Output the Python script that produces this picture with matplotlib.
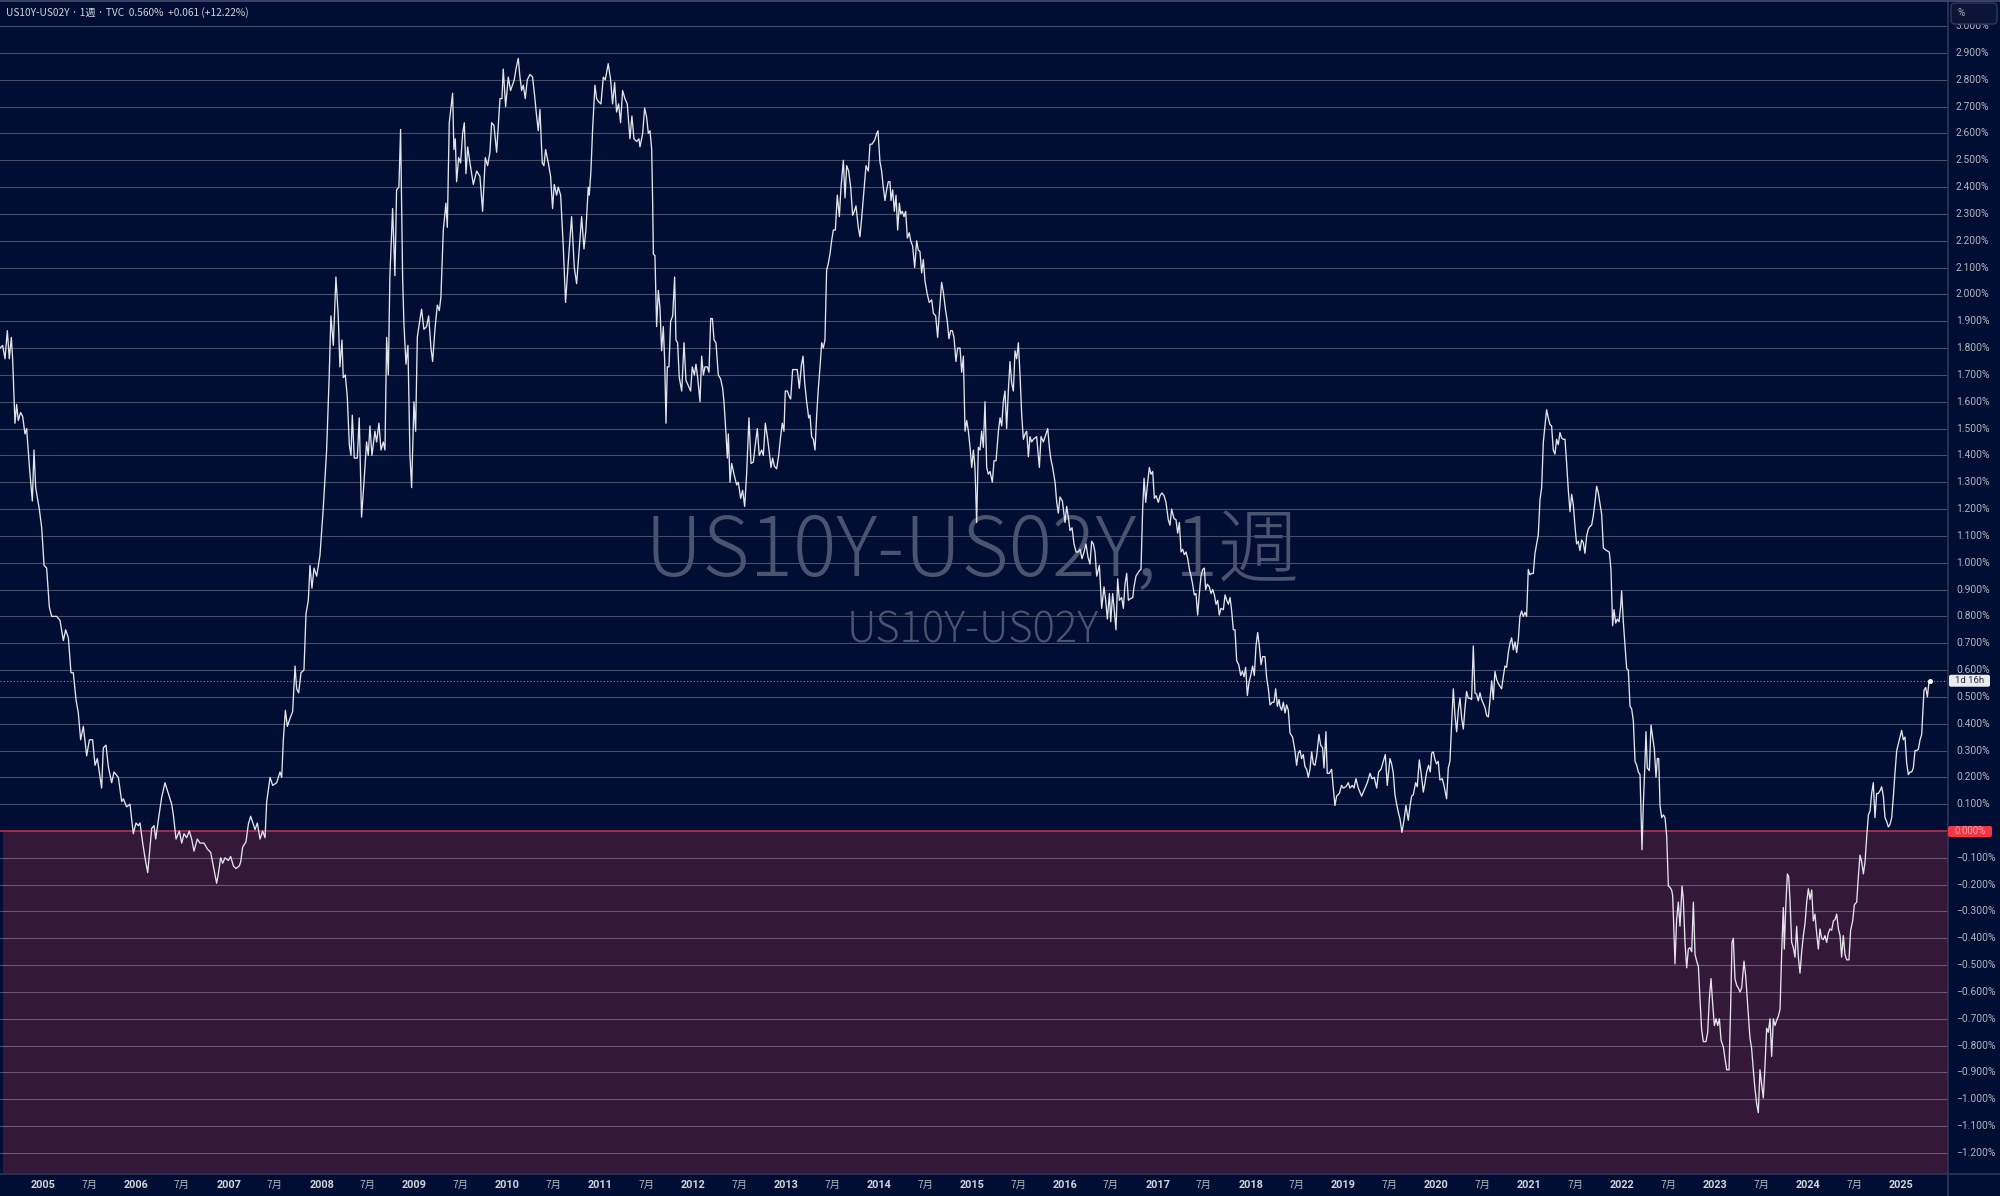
import matplotlib
matplotlib.use("Agg")
import matplotlib.pyplot as plt
from matplotlib.patches import FancyBboxPatch
from matplotlib.lines import Line2D
from matplotlib.transforms import blended_transform_factory, IdentityTransform
import numpy as np

# ---------------- data: (decimal year, US10Y-US02Y spread in %) ----------------
seg_2004_2007 = [
    (2004.548, 1.80), (2004.577, 1.81), (2004.602, 1.76), (2004.627, 1.865), (2004.648, 1.76),
    (2004.670, 1.84), (2004.684, 1.76), (2004.709, 1.52), (2004.727, 1.59), (2004.745, 1.53),
    (2004.770, 1.56), (2004.792, 1.545), (2004.817, 1.48), (2004.835, 1.50), (2004.864, 1.36),
    (2004.896, 1.23), (2004.914, 1.42), (2004.932, 1.28), (2004.971, 1.20), (2004.997, 1.13),
    (2005.022, 0.99), (2005.050, 0.98), (2005.079, 0.835), (2005.104, 0.80), (2005.158, 0.80),
    (2005.194, 0.785), (2005.230, 0.71), (2005.255, 0.75), (2005.284, 0.72), (2005.312, 0.59),
    (2005.337, 0.59), (2005.366, 0.49), (2005.391, 0.44), (2005.416, 0.34), (2005.445, 0.39),
    (2005.481, 0.28), (2005.510, 0.34), (2005.545, 0.34), (2005.571, 0.245), (2005.596, 0.27),
    (2005.642, 0.16), (2005.660, 0.31), (2005.689, 0.32), (2005.714, 0.24), (2005.750, 0.18),
    (2005.775, 0.22), (2005.822, 0.20), (2005.858, 0.11), (2005.876, 0.12), (2005.911, 0.09),
    (2005.947, 0.10), (2005.983, -0.01), (2006.012, 0.03), (2006.037, 0.02), (2006.055, 0.03),
    (2006.084, -0.045), (2006.109, -0.10), (2006.138, -0.155), (2006.163, -0.06), (2006.181, 0.01),
    (2006.206, 0.02), (2006.224, -0.03), (2006.252, 0.04), (2006.288, 0.125), (2006.324, 0.18),
    (2006.360, 0.14), (2006.396, 0.10), (2006.414, 0.06), (2006.443, -0.03), (2006.479, 0.0),
    (2006.504, -0.045), (2006.529, -0.01), (2006.557, -0.025), (2006.586, 0.0), (2006.611, -0.03),
    (2006.636, -0.075), (2006.672, -0.03), (2006.701, -0.045), (2006.744, -0.045), (2006.780, -0.067),
    (2006.816, -0.08), (2006.844, -0.13), (2006.880, -0.195), (2006.898, -0.16), (2006.923, -0.10),
    (2006.945, -0.12), (2006.970, -0.10), (2007.006, -0.11), (2007.031, -0.095), (2007.060, -0.13),
    (2007.088, -0.14), (2007.124, -0.13), (2007.139, -0.115), (2007.160, -0.06), (2007.196, -0.04),
    (2007.221, 0.025), (2007.246, 0.055), (2007.275, 0.025), (2007.293, 0.005), (2007.318, 0.03),
    (2007.347, -0.03), (2007.375, 0.0), (2007.401, -0.025), (2007.419, 0.11), (2007.455, 0.20),
    (2007.483, 0.17), (2007.526, 0.18), (2007.562, 0.22), (2007.580, 0.20), (2007.598, 0.34),
    (2007.620, 0.45), (2007.641, 0.39), (2007.670, 0.42), (2007.698, 0.445), (2007.724, 0.615),
    (2007.741, 0.53), (2007.763, 0.515), (2007.788, 0.59), (2007.820, 0.60), (2007.842, 0.81),
    (2007.867, 0.86), (2007.885, 0.99), (2007.906, 0.905), (2007.928, 0.98), (2007.957, 0.95),
]

seg_2008_2011 = [
    (2007.992, 1.027), (2008.028, 1.205), (2008.064, 1.42), (2008.092, 1.70), (2008.110, 1.92),
    (2008.136, 1.81), (2008.164, 2.065), (2008.189, 1.92), (2008.207, 1.73), (2008.229, 1.83),
    (2008.243, 1.69), (2008.265, 1.70), (2008.286, 1.62), (2008.308, 1.44), (2008.326, 1.40),
    (2008.340, 1.55), (2008.362, 1.39), (2008.394, 1.39), (2008.415, 1.54), (2008.440, 1.17),
    (2008.466, 1.30), (2008.494, 1.45), (2008.512, 1.40), (2008.530, 1.51), (2008.552, 1.40),
    (2008.584, 1.49), (2008.602, 1.45), (2008.627, 1.52), (2008.649, 1.42), (2008.674, 1.45),
    (2008.692, 1.42), (2008.710, 1.84), (2008.728, 1.70), (2008.745, 2.07), (2008.774, 2.32),
    (2008.799, 2.07), (2008.817, 2.39), (2008.842, 2.40), (2008.860, 2.615), (2008.882, 2.06),
    (2008.896, 1.89), (2008.918, 1.74), (2008.939, 1.81), (2008.961, 1.40), (2008.979, 1.28),
    (2009.004, 1.60), (2009.022, 1.49), (2009.040, 1.84), (2009.061, 1.89), (2009.086, 1.945),
    (2009.111, 1.87), (2009.140, 1.88), (2009.162, 1.92), (2009.187, 1.80), (2009.205, 1.75),
    (2009.230, 1.87), (2009.255, 1.96), (2009.277, 1.94), (2009.294, 1.99), (2009.320, 2.24),
    (2009.348, 2.34), (2009.363, 2.25), (2009.384, 2.64), (2009.420, 2.75), (2009.434, 2.54),
    (2009.449, 2.58), (2009.463, 2.42), (2009.485, 2.51), (2009.506, 2.49), (2009.528, 2.60),
    (2009.546, 2.64), (2009.564, 2.45), (2009.582, 2.55), (2009.607, 2.49), (2009.643, 2.41),
    (2009.679, 2.46), (2009.714, 2.44), (2009.743, 2.31), (2009.772, 2.51), (2009.797, 2.48),
    (2009.822, 2.53), (2009.840, 2.64), (2009.865, 2.63), (2009.894, 2.53), (2009.930, 2.73),
    (2009.951, 2.73), (2009.965, 2.84), (2009.991, 2.70), (2010.019, 2.81), (2010.044, 2.76),
    (2010.084, 2.80), (2010.102, 2.84), (2010.127, 2.88), (2010.145, 2.81), (2010.163, 2.76),
    (2010.181, 2.78), (2010.202, 2.73), (2010.224, 2.80), (2010.253, 2.82), (2010.281, 2.81),
    (2010.306, 2.73), (2010.324, 2.665), (2010.342, 2.61), (2010.360, 2.69), (2010.385, 2.49),
    (2010.403, 2.48), (2010.421, 2.54), (2010.450, 2.49), (2010.475, 2.44), (2010.496, 2.32),
    (2010.514, 2.41), (2010.540, 2.37), (2010.557, 2.40), (2010.583, 2.37), (2010.611, 2.18),
    (2010.636, 1.97), (2010.665, 2.12), (2010.701, 2.29), (2010.730, 2.10), (2010.755, 2.04),
    (2010.783, 2.17), (2010.809, 2.29), (2010.834, 2.17), (2010.855, 2.24), (2010.880, 2.40),
    (2010.891, 2.37), (2010.909, 2.46), (2010.927, 2.615), (2010.952, 2.78), (2010.970, 2.73),
    (2010.988, 2.72), (2011.017, 2.71), (2011.042, 2.81), (2011.063, 2.80), (2011.095, 2.86),
    (2011.121, 2.80), (2011.142, 2.71), (2011.164, 2.79), (2011.185, 2.68), (2011.207, 2.71),
    (2011.228, 2.64), (2011.250, 2.76), (2011.275, 2.73), (2011.300, 2.71), (2011.329, 2.58),
    (2011.350, 2.665), (2011.372, 2.58), (2011.401, 2.57), (2011.426, 2.58),
]

seg_2011_2014 = [
    (2011.437, 2.55), (2011.466, 2.60), (2011.487, 2.695), (2011.509, 2.66), (2011.527, 2.60),
    (2011.545, 2.61), (2011.563, 2.54), (2011.573, 2.35), (2011.581, 2.15), (2011.598, 2.145),
    (2011.616, 1.88), (2011.634, 2.015), (2011.652, 1.95), (2011.670, 1.79), (2011.688, 1.88),
    (2011.703, 1.75), (2011.717, 1.52), (2011.731, 1.73), (2011.749, 1.73), (2011.767, 1.90),
    (2011.789, 1.92), (2011.810, 2.065), (2011.824, 1.83), (2011.842, 1.82), (2011.860, 1.69),
    (2011.886, 1.64), (2011.911, 1.82), (2011.932, 1.68), (2011.957, 1.66), (2011.982, 1.64),
    (2012.000, 1.73), (2012.022, 1.70), (2012.040, 1.74), (2012.058, 1.69), (2012.083, 1.60),
    (2012.101, 1.77), (2012.119, 1.70), (2012.137, 1.73), (2012.162, 1.73), (2012.180, 1.71),
    (2012.198, 1.91), (2012.216, 1.91), (2012.234, 1.83), (2012.255, 1.82), (2012.280, 1.70),
    (2012.305, 1.685), (2012.327, 1.65), (2012.341, 1.60), (2012.363, 1.48), (2012.377, 1.39),
    (2012.388, 1.48), (2012.406, 1.30), (2012.424, 1.37), (2012.449, 1.33), (2012.478, 1.29),
    (2012.495, 1.30), (2012.521, 1.24), (2012.542, 1.27), (2012.564, 1.21), (2012.585, 1.33),
    (2012.610, 1.54), (2012.632, 1.37), (2012.657, 1.375), (2012.675, 1.43), (2012.700, 1.50),
    (2012.721, 1.40), (2012.747, 1.42), (2012.765, 1.40), (2012.786, 1.52), (2012.808, 1.47),
    (2012.826, 1.42), (2012.847, 1.355), (2012.865, 1.39), (2012.883, 1.36), (2012.908, 1.35),
    (2012.930, 1.40), (2012.951, 1.47), (2012.969, 1.52), (2012.987, 1.49), (2013.001, 1.64),
    (2013.023, 1.64), (2013.044, 1.62), (2013.059, 1.61), (2013.080, 1.72), (2013.105, 1.72),
    (2013.130, 1.72), (2013.152, 1.65), (2013.174, 1.735), (2013.192, 1.77), (2013.210, 1.67),
    (2013.231, 1.60), (2013.253, 1.54), (2013.267, 1.55), (2013.285, 1.47), (2013.303, 1.46),
    (2013.321, 1.42), (2013.339, 1.55), (2013.357, 1.65), (2013.375, 1.73), (2013.393, 1.82),
    (2013.410, 1.80), (2013.428, 1.83), (2013.446, 2.09), (2013.464, 2.115), (2013.482, 2.15),
    (2013.500, 2.20), (2013.518, 2.24), (2013.540, 2.24), (2013.561, 2.37), (2013.583, 2.29),
    (2013.601, 2.40), (2013.626, 2.50), (2013.644, 2.36), (2013.662, 2.48), (2013.683, 2.46),
    (2013.705, 2.40), (2013.726, 2.295), (2013.744, 2.31), (2013.762, 2.33), (2013.787, 2.25),
    (2013.805, 2.215), (2013.827, 2.30), (2013.848, 2.39), (2013.870, 2.48), (2013.895, 2.46),
    (2013.913, 2.56), (2013.934, 2.56), (2013.963, 2.575), (2013.985, 2.60), (2013.999, 2.61),
    (2014.020, 2.495), (2014.038, 2.46), (2014.056, 2.40), (2014.074, 2.35), (2014.092, 2.39),
    (2014.110, 2.42), (2014.128, 2.42), (2014.139, 2.35), (2014.157, 2.39), (2014.175, 2.31),
    (2014.193, 2.37), (2014.211, 2.24), (2014.229, 2.34), (2014.243, 2.30), (2014.261, 2.31),
    (2014.279, 2.29), (2014.297, 2.31), (2014.315, 2.21), (2014.336, 2.23), (2014.351, 2.20),
    (2014.372, 2.18), (2014.394, 2.10), (2014.415, 2.20), (2014.433, 2.165), (2014.451, 2.16),
    (2014.469, 2.08), (2014.487, 2.13), (2014.505, 2.05), (2014.530, 2.00), (2014.551, 1.97),
    (2014.577, 1.98), (2014.595, 1.93), (2014.620, 1.92), (2014.641, 1.84), (2014.659, 1.93),
    (2014.684, 2.045), (2014.702, 2.01), (2014.727, 1.94), (2014.745, 1.90), (2014.763, 1.835),
    (2014.781, 1.865), (2014.799, 1.865), (2014.817, 1.84), (2014.838, 1.75), (2014.856, 1.80),
    (2014.874, 1.80),
]

seg_2015_2018 = [
    (2014.882, 1.80), (2014.900, 1.71), (2014.918, 1.77), (2014.936, 1.49), (2014.954, 1.53),
    (2014.972, 1.49), (2014.990, 1.43), (2015.008, 1.355), (2015.026, 1.42), (2015.043, 1.355),
    (2015.061, 1.15), (2015.079, 1.43), (2015.097, 1.42), (2015.115, 1.49), (2015.133, 1.43),
    (2015.151, 1.60), (2015.169, 1.355), (2015.187, 1.33), (2015.205, 1.34), (2015.230, 1.30),
    (2015.248, 1.38), (2015.270, 1.38), (2015.295, 1.49), (2015.313, 1.54), (2015.331, 1.51),
    (2015.348, 1.60), (2015.366, 1.64), (2015.384, 1.50), (2015.402, 1.64), (2015.420, 1.75),
    (2015.438, 1.67), (2015.456, 1.64), (2015.474, 1.79), (2015.492, 1.76), (2015.510, 1.82),
    (2015.528, 1.70), (2015.546, 1.55), (2015.564, 1.46), (2015.582, 1.48), (2015.600, 1.49),
    (2015.618, 1.395), (2015.635, 1.47), (2015.653, 1.45), (2015.671, 1.46), (2015.707, 1.47),
    (2015.736, 1.355), (2015.754, 1.47), (2015.779, 1.45), (2015.808, 1.48), (2015.826, 1.50),
    (2015.844, 1.43), (2015.858, 1.39), (2015.879, 1.355), (2015.905, 1.30), (2015.923, 1.225),
    (2015.940, 1.185), (2015.958, 1.245), (2015.984, 1.23), (2016.012, 1.15), (2016.030, 1.21),
    (2016.048, 1.17), (2016.066, 1.12), (2016.088, 1.13), (2016.109, 1.07), (2016.131, 1.04),
    (2016.156, 1.04), (2016.174, 1.05), (2016.195, 1.015), (2016.217, 1.04), (2016.238, 1.07),
    (2016.260, 1.02), (2016.281, 0.995), (2016.299, 1.08), (2016.317, 1.07), (2016.335, 1.04),
    (2016.353, 0.95), (2016.382, 0.99), (2016.407, 0.83), (2016.432, 0.91), (2016.450, 0.86),
    (2016.468, 0.79), (2016.490, 0.885), (2016.504, 0.78), (2016.525, 0.885), (2016.543, 0.82),
    (2016.561, 0.75), (2016.579, 0.94), (2016.597, 0.86), (2016.622, 0.87), (2016.640, 0.83),
    (2016.658, 0.92), (2016.676, 0.96), (2016.694, 0.86), (2016.712, 0.865), (2016.741, 0.87),
    (2016.755, 0.91), (2016.776, 0.95), (2016.794, 0.96), (2016.812, 0.97), (2016.830, 0.975),
    (2016.848, 1.20), (2016.863, 1.315), (2016.881, 1.225), (2016.899, 1.29), (2016.920, 1.355),
    (2016.938, 1.33), (2016.956, 1.34), (2016.974, 1.24), (2016.992, 1.25), (2017.017, 1.225),
    (2017.035, 1.25), (2017.056, 1.26), (2017.078, 1.25), (2017.099, 1.225), (2017.124, 1.16),
    (2017.142, 1.14), (2017.160, 1.20), (2017.185, 1.165), (2017.207, 1.16), (2017.225, 1.11),
    (2017.243, 1.15), (2017.261, 1.04), (2017.279, 1.05), (2017.297, 1.03), (2017.315, 1.04),
    (2017.333, 1.015), (2017.351, 0.975), (2017.369, 0.95), (2017.386, 0.92), (2017.404, 0.88),
    (2017.422, 0.885), (2017.440, 0.805), (2017.458, 0.885), (2017.476, 0.95), (2017.494, 0.975),
    (2017.512, 0.98), (2017.526, 0.90), (2017.544, 0.92), (2017.566, 0.91), (2017.584, 0.885),
    (2017.602, 0.90), (2017.620, 0.88), (2017.638, 0.845), (2017.656, 0.86), (2017.673, 0.805),
    (2017.691, 0.83), (2017.717, 0.825), (2017.735, 0.88), (2017.753, 0.86), (2017.771, 0.845),
    (2017.789, 0.87), (2017.806, 0.82), (2017.824, 0.75), (2017.842, 0.75), (2017.860, 0.635),
    (2017.882, 0.62), (2017.903, 0.58), (2017.921, 0.595), (2017.939, 0.575), (2017.957, 0.61),
    (2017.975, 0.505), (2017.993, 0.555), (2018.011, 0.58), (2018.032, 0.615), (2018.050, 0.58),
    (2018.068, 0.69), (2018.086, 0.74), (2018.104, 0.69), (2018.122, 0.62), (2018.140, 0.65),
    (2018.165, 0.65), (2018.183, 0.57), (2018.201, 0.53), (2018.219, 0.47), (2018.244, 0.48),
    (2018.262, 0.48), (2018.280, 0.53), (2018.298, 0.465), (2018.316, 0.49),
]

seg_2018_2021 = [
    (2018.326, 0.465), (2018.344, 0.45), (2018.362, 0.48), (2018.380, 0.44), (2018.398, 0.47),
    (2018.416, 0.45), (2018.434, 0.365), (2018.462, 0.35), (2018.487, 0.30), (2018.505, 0.245),
    (2018.523, 0.29), (2018.541, 0.30), (2018.559, 0.27), (2018.577, 0.285), (2018.595, 0.24),
    (2018.613, 0.23), (2018.631, 0.20), (2018.649, 0.23), (2018.667, 0.295), (2018.685, 0.25),
    (2018.703, 0.245), (2018.721, 0.28), (2018.746, 0.36), (2018.764, 0.32), (2018.785, 0.31),
    (2018.800, 0.235), (2018.821, 0.37), (2018.835, 0.215), (2018.857, 0.215), (2018.882, 0.23),
    (2018.900, 0.16), (2018.918, 0.095), (2018.936, 0.13), (2018.965, 0.14), (2018.990, 0.17),
    (2019.008, 0.16), (2019.036, 0.165), (2019.062, 0.18), (2019.079, 0.16), (2019.105, 0.17),
    (2019.123, 0.16), (2019.144, 0.195), (2019.169, 0.16), (2019.205, 0.13), (2019.241, 0.16),
    (2019.266, 0.18), (2019.295, 0.215), (2019.316, 0.195), (2019.341, 0.20), (2019.367, 0.16),
    (2019.388, 0.22), (2019.413, 0.23), (2019.438, 0.26), (2019.460, 0.285), (2019.481, 0.17),
    (2019.510, 0.27), (2019.528, 0.25), (2019.546, 0.215), (2019.564, 0.135), (2019.582, 0.10),
    (2019.600, 0.07), (2019.618, 0.045), (2019.639, -0.005), (2019.661, 0.04), (2019.682, 0.095),
    (2019.707, 0.04), (2019.725, 0.09), (2019.743, 0.13), (2019.761, 0.135), (2019.786, 0.18),
    (2019.804, 0.165), (2019.826, 0.265), (2019.844, 0.22), (2019.869, 0.145), (2019.887, 0.18),
    (2019.905, 0.22), (2019.926, 0.245), (2019.944, 0.22), (2019.959, 0.29), (2019.977, 0.295),
    (2019.995, 0.265), (2020.012, 0.25), (2020.030, 0.26), (2020.048, 0.19), (2020.073, 0.195),
    (2020.091, 0.17), (2020.120, 0.12), (2020.138, 0.235), (2020.156, 0.26), (2020.174, 0.40),
    (2020.192, 0.53), (2020.210, 0.43), (2020.228, 0.37), (2020.246, 0.45), (2020.264, 0.495),
    (2020.282, 0.42), (2020.300, 0.38), (2020.318, 0.46), (2020.335, 0.52), (2020.353, 0.495),
    (2020.371, 0.495), (2020.389, 0.49), (2020.407, 0.69), (2020.425, 0.515), (2020.443, 0.51),
    (2020.461, 0.485), (2020.479, 0.515), (2020.497, 0.49), (2020.515, 0.475), (2020.533, 0.46),
    (2020.551, 0.43), (2020.569, 0.425), (2020.587, 0.49), (2020.605, 0.56), (2020.622, 0.49),
    (2020.640, 0.595), (2020.658, 0.565), (2020.676, 0.55), (2020.694, 0.54), (2020.712, 0.53),
    (2020.730, 0.575), (2020.748, 0.615), (2020.766, 0.61), (2020.784, 0.665), (2020.802, 0.70),
    (2020.820, 0.72), (2020.838, 0.675), (2020.856, 0.705), (2020.874, 0.665), (2020.892, 0.715),
    (2020.909, 0.80), (2020.927, 0.82), (2020.945, 0.80), (2020.963, 0.815), (2020.981, 0.80),
    (2020.999, 0.975), (2021.017, 0.955), (2021.035, 0.96), (2021.053, 0.96), (2021.071, 1.035),
    (2021.089, 1.07), (2021.107, 1.105), (2021.125, 1.235), (2021.143, 1.28), (2021.161, 1.45),
    (2021.179, 1.51), (2021.196, 1.57), (2021.214, 1.54), (2021.232, 1.515), (2021.250, 1.51),
    (2021.268, 1.42), (2021.286, 1.405), (2021.304, 1.46), (2021.322, 1.44), (2021.340, 1.485),
    (2021.358, 1.465), (2021.376, 1.46), (2021.394, 1.46), (2021.412, 1.37), (2021.430, 1.27),
    (2021.448, 1.19), (2021.466, 1.255), (2021.484, 1.215), (2021.502, 1.135), (2021.519, 1.07),
    (2021.537, 1.08), (2021.555, 1.045), (2021.573, 1.085), (2021.591, 1.075), (2021.609, 1.035),
    (2021.627, 1.10), (2021.645, 1.125), (2021.663, 1.135), (2021.681, 1.14), (2021.699, 1.175),
    (2021.717, 1.225), (2021.735, 1.285), (2021.753, 1.26),
]

seg_2021_2025 = [
    (2021.771, 1.22), (2021.789, 1.18), (2021.807, 1.055), (2021.843, 1.045), (2021.871, 1.04),
    (2021.889, 0.975), (2021.907, 0.765), (2021.922, 0.825), (2021.940, 0.775), (2021.958, 0.79),
    (2021.976, 0.78), (2021.993, 0.835), (2022.004, 0.895), (2022.022, 0.78), (2022.040, 0.695),
    (2022.058, 0.605), (2022.076, 0.60), (2022.094, 0.465), (2022.112, 0.455), (2022.130, 0.41),
    (2022.148, 0.26), (2022.166, 0.245), (2022.184, 0.22), (2022.202, 0.21), (2022.223, -0.07),
    (2022.237, 0.095), (2022.255, 0.255), (2022.266, 0.37), (2022.280, 0.235), (2022.302, 0.225),
    (2022.320, 0.395), (2022.338, 0.35), (2022.356, 0.305), (2022.374, 0.20), (2022.388, 0.27),
    (2022.403, 0.27), (2022.417, 0.095), (2022.435, 0.05), (2022.453, 0.06), (2022.471, 0.05),
    (2022.489, -0.02), (2022.507, -0.205), (2022.524, -0.21), (2022.542, -0.22), (2022.553, -0.24),
    (2022.564, -0.345), (2022.578, -0.495), (2022.596, -0.33), (2022.614, -0.265), (2022.632, -0.355),
    (2022.654, -0.205), (2022.668, -0.255), (2022.686, -0.415), (2022.704, -0.51), (2022.722, -0.44),
    (2022.740, -0.435), (2022.758, -0.45), (2022.776, -0.265), (2022.794, -0.46), (2022.812, -0.485),
    (2022.830, -0.505), (2022.847, -0.625), (2022.865, -0.74), (2022.883, -0.785), (2022.912, -0.785),
    (2022.930, -0.75), (2022.948, -0.625), (2022.966, -0.55), (2022.984, -0.645), (2023.002, -0.725),
    (2023.020, -0.70), (2023.038, -0.725), (2023.056, -0.70), (2023.074, -0.78), (2023.099, -0.805),
    (2023.117, -0.85), (2023.135, -0.89), (2023.160, -0.89), (2023.178, -0.645), (2023.192, -0.415),
    (2023.206, -0.40), (2023.224, -0.55), (2023.242, -0.575), (2023.260, -0.585), (2023.278, -0.60),
    (2023.296, -0.585), (2023.321, -0.485), (2023.339, -0.54), (2023.360, -0.645), (2023.385, -0.77),
    (2023.403, -0.81), (2023.421, -0.89), (2023.439, -0.96), (2023.457, -1.015), (2023.475, -1.05),
    (2023.493, -0.89), (2023.511, -0.945), (2023.529, -0.995), (2023.547, -0.875), (2023.565, -0.735),
    (2023.583, -0.75), (2023.601, -0.70), (2023.619, -0.84), (2023.637, -0.70), (2023.655, -0.725),
    (2023.673, -0.705), (2023.691, -0.69), (2023.709, -0.665), (2023.727, -0.45), (2023.744, -0.285),
    (2023.755, -0.44), (2023.770, -0.285), (2023.788, -0.16), (2023.802, -0.17), (2023.816, -0.255),
    (2023.834, -0.415), (2023.852, -0.435), (2023.870, -0.47), (2023.888, -0.355), (2023.906, -0.47),
    (2023.924, -0.53), (2023.942, -0.45), (2023.960, -0.39), (2023.978, -0.345), (2023.996, -0.265),
    (2024.014, -0.215), (2024.032, -0.255), (2024.050, -0.22), (2024.067, -0.335), (2024.085, -0.31),
    (2024.103, -0.38), (2024.121, -0.44), (2024.139, -0.365), (2024.157, -0.40), (2024.175, -0.405),
    (2024.193, -0.39), (2024.211, -0.415), (2024.229, -0.38), (2024.247, -0.365), (2024.265, -0.37),
    (2024.283, -0.335), (2024.301, -0.33), (2024.319, -0.31), (2024.337, -0.365), (2024.355, -0.39),
    (2024.372, -0.47), (2024.390, -0.39), (2024.408, -0.46), (2024.426, -0.48), (2024.451, -0.48),
    (2024.469, -0.37), (2024.491, -0.335), (2024.509, -0.275), (2024.534, -0.265), (2024.552, -0.17),
    (2024.570, -0.09), (2024.588, -0.115), (2024.606, -0.16), (2024.624, -0.115), (2024.642, -0.02),
    (2024.660, 0.06), (2024.678, 0.075), (2024.695, 0.14), (2024.713, 0.18), (2024.731, 0.05),
    (2024.749, 0.14), (2024.767, 0.14), (2024.785, 0.15), (2024.803, 0.165), (2024.821, 0.13),
    (2024.839, 0.05), (2024.857, 0.035), (2024.875, 0.015), (2024.893, 0.025), (2024.911, 0.05),
    (2024.929, 0.13), (2024.947, 0.22), (2024.965, 0.30), (2024.983, 0.325), (2025.000, 0.35),
    (2025.018, 0.375), (2025.036, 0.34), (2025.054, 0.35), (2025.072, 0.255), (2025.090, 0.21),
    (2025.108, 0.22), (2025.126, 0.22), (2025.144, 0.235), (2025.162, 0.30), (2025.180, 0.30),
    (2025.198, 0.305), (2025.216, 0.34), (2025.234, 0.36), (2025.244, 0.43), (2025.259, 0.525),
    (2025.277, 0.535), (2025.295, 0.50), (2025.312, 0.555), (2025.323, 0.56),
]

year_labels = [str(y) for y in range(2005, 2026)]
month_label = "7月"
title_text = "US10Y-US02Y · 1週 · TVC  0.560%  +0.061 (+12.22%)"
watermark_main = "US10Y-US02Y, 1週"
watermark_sub = "US10Y-US02Y"
last_value = 0.560
countdown = "1d 16h"

# ---------------- styling ----------------
BG = "#010E33"
NEG = "#341839"
LINE = "#E2E4EA"
TXT = "#B2B5BE"
CJK = ["Noto Sans CJK JP", "DejaVu Sans"]
NUM = ["Roboto", "DejaVu Sans"]

W, H = 2000, 1196
PLOT_R = 1948
PLOT_B = 1173
PLOT_T = 2

allpts = seg_2004_2007 + seg_2008_2011 + seg_2011_2014 + seg_2015_2018 + seg_2018_2021 + seg_2021_2025
t = np.array([p[0] for p in allpts])
v = np.array([p[1] for p in allpts])

fig = plt.figure(figsize=(W / 100, H / 100), dpi=100, facecolor=BG)
ax = fig.add_axes([0, 1 - PLOT_B / H, PLOT_R / W, (PLOT_B - PLOT_T) / H])
ax.set_facecolor(BG)
XMIN, XMAX = 2004.548, 2025.517
YMIN, YMAX = -1.2747, 3.090
ax.set_xlim(XMIN, XMAX)
ax.set_ylim(YMIN, YMAX)
for s in ax.spines.values():
    s.set_visible(False)
ax.set_xticks([])
ax.set_yticks([])

# negative zone
ax.axhspan(YMIN, 0, xmin=0.0015, color=NEG, zorder=0, lw=0)

# grid lines
grid_vals = [k / 10 for k in range(-12, 31)]
for g in grid_vals:
    if abs(g) < 1e-9:
        continue
    ax.axhline(g, color="white", alpha=0.27, lw=0.8, zorder=1)
ax.axhline(0, color="#B9324A", lw=1.2, zorder=2)

# watermark
ax.text(0.486, 1 - 553 / H, watermark_main, transform=fig.transFigure, ha="center", va="center",
        fontsize=58.5, color="#4A5370", family=CJK, fontweight="light", zorder=1.5)
ax.text(0.4865, 1 - 631 / H, watermark_sub, transform=fig.transFigure, ha="center", va="center",
        fontsize=30, color="#4A5370", family=CJK, fontweight="light", zorder=1.5)

# current value dotted line
ax.axhline(last_value, color="#8E94A8", lw=0.8, ls=(0, (1, 2)), zorder=2)

# series
ax.plot(t, v, color=LINE, lw=0.95, zorder=3, solid_joinstyle="round")
ax.plot(t[-1:], v[-1:], "o", ms=2.6, color="white", zorder=4)

# ---------------- right price axis ----------------
ytr = blended_transform_factory(fig.transFigure, ax.transData)
for g in grid_vals:
    if abs(g) < 1e-9:
        continue
    lab = f"{abs(g):.3f}%"
    if g < 0:
        lab = "\u2212" + lab
    fig.text(1956 / W, g, lab, transform=ytr, ha="left", va="center", fontsize=7.4,
             color=TXT, family=NUM)

# separators
fig.add_artist(Line2D([PLOT_R / W + 0.0002] * 2, [0, 1], transform=fig.transFigure,
                      color="#2C3758", lw=1.2))
fig.add_artist(Line2D([0, 1], [1 - (PLOT_B + 0.5) / H] * 2, transform=fig.transFigure,
                      color="#2C3758", lw=1.2))
fig.add_artist(Line2D([0, 1], [1 - 0.6 / H] * 2, transform=fig.transFigure,
                      color="#3A4466", lw=1.4))

ident = IdentityTransform()
# "%" button
fig.add_artist(FancyBboxPatch((1951, H - 24), 46, 21, boxstyle="round,pad=0,rounding_size=4",
                              transform=ident, facecolor="#0A1538", edgecolor="#2E3858", lw=1.0,
                              zorder=10))
fig.text(1958 / W, 1 - 13.5 / H, "%", ha="left", va="center", fontsize=7.2, color=TXT,
         family=NUM, zorder=11)

# zero label (red)
fig.add_artist(FancyBboxPatch((1948, H - 837), 44, 11, boxstyle="round,pad=0,rounding_size=2",
                              transform=ident, facecolor="#F23645", edgecolor="none", zorder=10))
fig.text(1970 / W, 1 - 831.5 / H, "0.000%", ha="center", va="center", fontsize=7.0,
         color="#FBA3AC", family=NUM, zorder=11)

# countdown label
y_last = 831 - last_value * 268.3
fig.add_artist(FancyBboxPatch((1949, H - (y_last + 6)), 41, 12, boxstyle="round,pad=0,rounding_size=2",
                              transform=ident, facecolor="#E9EBF0", edgecolor="none", zorder=10))
fig.text(1969.5 / W, 1 - y_last / H, countdown, ha="center", va="center", fontsize=6.8,
         color="#2A2E39", family=NUM, zorder=11)

# ---------------- bottom time axis ----------------
xtr = blended_transform_factory(ax.transData, fig.transFigure)
for i, lab in enumerate(year_labels):
    yr = 2005 + i
    fig.text(yr + 0.01, 1 - 1185 / H, lab, transform=xtr, ha="center", va="center",
             fontsize=7.8, color="#D1D4DC", fontweight="bold", family=NUM)
    if yr < 2025:
        fig.text(yr + 0.506, 1 - 1185 / H, month_label, transform=xtr, ha="center", va="center",
                 fontsize=7.4, color=TXT, family=CJK)

# ---------------- header ----------------
fig.text(6 / W, 1 - 13 / H, title_text, ha="left", va="center", fontsize=7.3,
         color="#D1D4DC", family=CJK)

fig.savefig("out.png", dpi=100, facecolor=BG)
